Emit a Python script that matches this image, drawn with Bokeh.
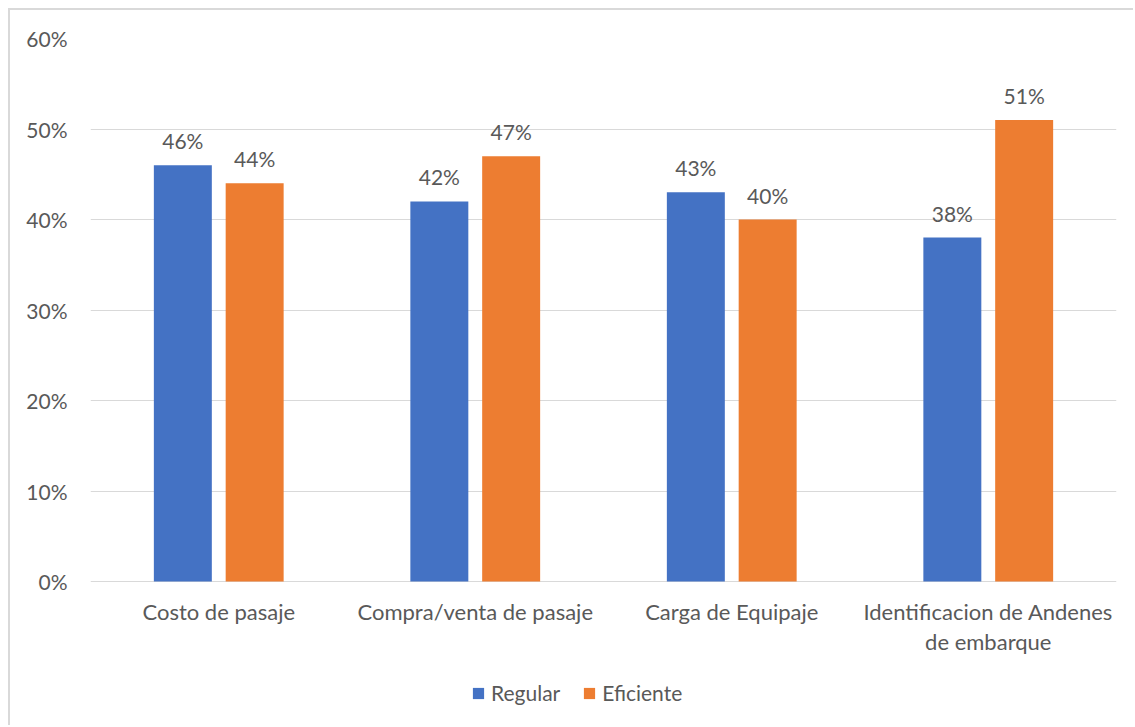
from bokeh.plotting import figure
from bokeh.models import ColumnDataSource, FactorRange, NumeralTickFormatter, LabelSet, Legend, LegendItem, FixedTicker
from bokeh.transform import dodge
from bokeh.core.properties import value
from bokeh.embed import file_html
from bokeh.resources import INLINE

categories = ["Costo de pasaje", "Compra/venta de pasaje", "Carga de Equipaje", "Identificacion de Andenes\nde embarque"]
regular = [0.46, 0.42, 0.43, 0.38]
eficiente = [0.44, 0.47, 0.40, 0.51]
series_names = ["Regular", "Eficiente"]
colors = ["#4472C4", "#ED7D31"]
y_ticks = [0, 0.1, 0.2, 0.3, 0.4, 0.5, 0.6]

FONT = "Lato"
TXT = "#595959"

# layout: the plot frame reaches down to the bottom so that the category labels
# and the legend can sit inside it; 0..60 % occupies the upper 543 px of 689 px
Y_MAX = 0.6
Y_MIN = -Y_MAX * 146 / 543

line1 = [c.split("\n")[0] for c in categories]
line2 = [c.split("\n")[1] if "\n" in c else "" for c in categories]

src = ColumnDataSource(dict(
    cat=categories,
    line1=line1,
    line2=line2,
    reg=regular,
    efi=eficiente,
    reg_lbl=[f"{round(v*100)}%" for v in regular],
    efi_lbl=[f"{round(v*100)}%" for v in eficiente],
))

p = figure(x_range=FactorRange(*categories), y_range=(Y_MIN, Y_MAX),
           width=1125, height=717, output_backend="svg", toolbar_location=None,
           min_border_left=80, min_border_right=19, min_border_top=28, min_border_bottom=0)
p.outline_line_color = None
p.background_fill_color = "white"
p.border_fill_color = "white"

r1 = p.vbar(x=dodge("cat", -0.14, range=p.x_range), top="reg", width=0.226, source=src,
            fill_color=colors[0], line_color=None)
r2 = p.vbar(x=dodge("cat", 0.14, range=p.x_range), top="efi", width=0.226, source=src,
            fill_color=colors[1], line_color=None)

for col, off in (("reg", -0.14), ("efi", 0.14)):
    ls = LabelSet(x=dodge("cat", off, range=p.x_range), y=col, text=col + "_lbl", source=src,
                  text_align="center", text_baseline="alphabetic", y_offset=16,
                  text_font=value(FONT), text_font_size="21px", text_color=TXT)
    p.add_layout(ls)

# category labels under the baseline (each line centred)
for col, off in (("line1", -30), ("line2", -60)):
    cl = LabelSet(x="cat", y=0, text=col, source=src, y_offset=off,
                  text_align="center", text_baseline="middle",
                  text_font=value(FONT), text_font_size="22px", text_color=TXT)
    p.add_layout(cl)

p.xaxis.visible = False
p.xgrid.grid_line_color = None
p.ygrid.grid_line_color = "#D9D9D9"
p.ygrid.grid_line_width = 1
p.yaxis.ticker = FixedTicker(ticks=y_ticks)
p.yaxis.formatter = NumeralTickFormatter(format="0%")
p.yaxis.axis_line_color = None
p.yaxis.major_tick_line_color = None
p.yaxis.minor_tick_line_color = None
p.yaxis.major_label_standoff = 17
p.yaxis.major_label_text_font = FONT
p.yaxis.major_label_text_font_size = "21px"
p.yaxis.major_label_text_color = TXT

legend = Legend(items=[LegendItem(label=series_names[0], renderers=[r1]),
                       LegendItem(label=series_names[1], renderers=[r2])],
                orientation="horizontal", location=(381, 22),
                glyph_width=14, glyph_height=14, label_standoff=6, spacing=22,
                label_text_font=FONT, label_text_font_size="21px", label_text_color=TXT,
                background_fill_alpha=0, border_line_color=None, padding=0, margin=0)
p.add_layout(legend, "center")

p.styles = {"border-top": "2px solid #D9D9D9", "border-left": "2px solid #D9D9D9",
            "margin-left": "8px", "margin-top": "8px"}

open("out.html", "w").write(file_html(p, INLINE))
